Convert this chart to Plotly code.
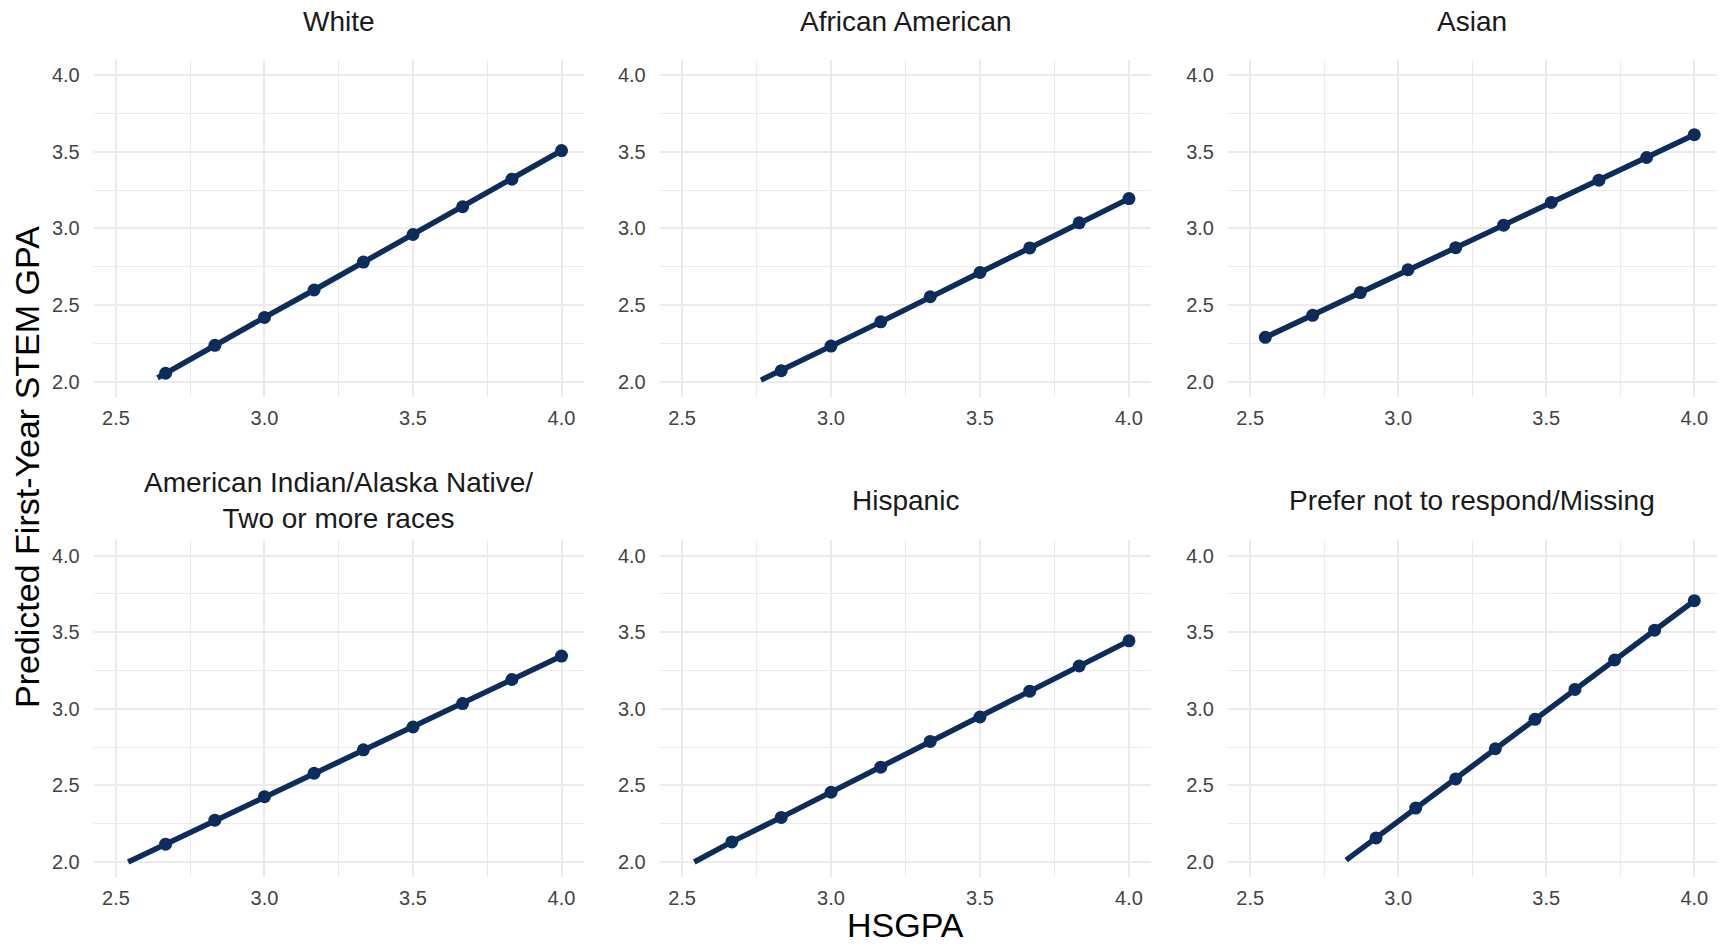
import plotly.graph_objects as go

# ---------------- data ----------------
panel_titles = ["White", "African American", "Asian",
                "American Indian/Alaska Native/<br>Two or more races", "Hispanic",
                "Prefer not to respond/Missing"]

white_x = [2.667, 2.833, 3.0, 3.167, 3.333, 3.5, 3.667, 3.833, 4.0]
white_y = [2.055, 2.237, 2.419, 2.598, 2.780, 2.960, 3.141, 3.321, 3.507]
white_start = (2.64, 2.025)

afam_x = [2.833, 3.0, 3.167, 3.333, 3.5, 3.667, 3.833, 4.0]
afam_y = [2.072, 2.232, 2.390, 2.554, 2.712, 2.872, 3.036, 3.194]
afam_start = (2.765, 2.01)

asian_x = [2.551, 2.711, 2.872, 3.033, 3.194, 3.356, 3.517, 3.678, 3.839, 4.0]
asian_y = [2.289, 2.433, 2.581, 2.730, 2.874, 3.021, 3.169, 3.314, 3.462, 3.611]
asian_start = None

aian_x = [2.667, 2.833, 3.0, 3.167, 3.333, 3.5, 3.667, 3.833, 4.0]
aian_y = [2.116, 2.273, 2.426, 2.579, 2.732, 2.881, 3.034, 3.191, 3.344]
aian_start = (2.541, 2.0)

hisp_x = [2.667, 2.833, 3.0, 3.167, 3.333, 3.5, 3.667, 3.833, 4.0]
hisp_y = [2.131, 2.291, 2.455, 2.619, 2.787, 2.946, 3.115, 3.279, 3.443]
hisp_start = (2.541, 2.0)

pref_x = [2.925, 3.059, 3.194, 3.328, 3.462, 3.597, 3.731, 3.866, 4.0]
pref_y = [2.157, 2.352, 2.542, 2.739, 2.931, 3.126, 3.318, 3.513, 3.705]
pref_start = (2.824, 2.012)

x_ticks = [2.5, 3.0, 3.5, 4.0]
x_minor = [2.75, 3.25, 3.75]
y_ticks = [2.0, 2.5, 3.0, 3.5, 4.0]
y_minor = [2.25, 2.75, 3.25, 3.75]

series = [(white_x, white_y, white_start), (afam_x, afam_y, afam_start),
          (asian_x, asian_y, asian_start), (aian_x, aian_y, aian_start),
          (hisp_x, hisp_y, hisp_start), (pref_x, pref_y, pref_start)]

# ---------------- layout ----------------
W, H = 1721, 945
navy = "#0C2D5C"
grid = "#EBEBEB"
tick_color = "#444444"
font_family = "Liberation Sans, Arial, sans-serif"

col_px = [(93.7, 583.8), (659.7, 1151.3), (1228.0, 1716.5)]
row_px = [(59.7, 397.0), (540.2, 877.3)]

fig = go.Figure()
layout = {}
annotations = []

for i, (xs, ys, start) in enumerate(series):
    r, c = divmod(i, 3)
    idx = i + 1
    xa = "x" if idx == 1 else f"x{idx}"
    ya = "y" if idx == 1 else f"y{idx}"
    lx = ([start[0]] if start else []) + xs
    ly = ([start[1]] if start else []) + ys
    fig.add_trace(go.Scatter(x=lx, y=ly, mode="lines", xaxis=xa, yaxis=ya,
                             line=dict(color=navy, width=5.5), showlegend=False,
                             hoverinfo="skip"))
    fig.add_trace(go.Scatter(x=xs, y=ys, mode="markers", xaxis=xa, yaxis=ya,
                             marker=dict(color=navy, size=13), showlegend=False))
    x0, x1 = col_px[c]
    y0, y1 = row_px[r]
    xdom = [x0 / W, x1 / W]
    ydom = [1 - y1 / H, 1 - y0 / H]
    key_x = "xaxis" if idx == 1 else f"xaxis{idx}"
    key_y = "yaxis" if idx == 1 else f"yaxis{idx}"
    layout[key_x] = dict(domain=xdom, anchor=ya, range=[2.425, 4.075],
                         tickvals=x_ticks, ticktext=[f"{v:.1f}" for v in x_ticks],
                         showgrid=True, gridcolor=grid, gridwidth=2,
                         zeroline=False, showline=False,
                         ticks="outside", ticklen=3, tickcolor="rgba(0,0,0,0)",
                         tickfont=dict(size=20, color=tick_color, family=font_family),
                         minor=dict(tickvals=x_minor, showgrid=True, gridcolor=grid,
                                    gridwidth=1.2, ticks=""))
    layout[key_y] = dict(domain=ydom, anchor=xa, range=[1.9, 4.1],
                         tickvals=y_ticks, ticktext=[f"{v:.1f}" for v in y_ticks],
                         showgrid=True, gridcolor=grid, gridwidth=2,
                         zeroline=False, showline=False,
                         ticks="outside", ticklen=9, tickcolor="rgba(0,0,0,0)",
                         tickfont=dict(size=20, color=tick_color, family=font_family),
                         minor=dict(tickvals=y_minor, showgrid=True, gridcolor=grid,
                                    gridwidth=1.2, ticks=""))
    title_y = 1 - (21 if r == 0 else 500.5) / H
    annotations.append(dict(text=panel_titles[i], x=(xdom[0] + xdom[1]) / 2, y=title_y,
                            xref="paper", yref="paper", xanchor="center", yanchor="middle",
                            showarrow=False,
                            font=dict(size=28, color="#1A1A1A", family=font_family)))

annotations.append(dict(text="HSGPA", x=905 / W, y=1 - 925 / H, xref="paper", yref="paper",
                        xanchor="center", yanchor="middle", showarrow=False,
                        font=dict(size=34, color="#000000", family=font_family)))
annotations.append(dict(text="Predicted First-Year STEM GPA", x=27 / W, y=1 - 467 / H,
                        xref="paper", yref="paper", xanchor="center", yanchor="middle",
                        textangle=-90, showarrow=False,
                        font=dict(size=34, color="#000000", family=font_family)))

fig.update_layout(width=W, height=H, margin=dict(l=0, r=0, t=0, b=0),
                  paper_bgcolor="white", plot_bgcolor="white",
                  annotations=annotations, **layout)

fig.write_html("out.html")
